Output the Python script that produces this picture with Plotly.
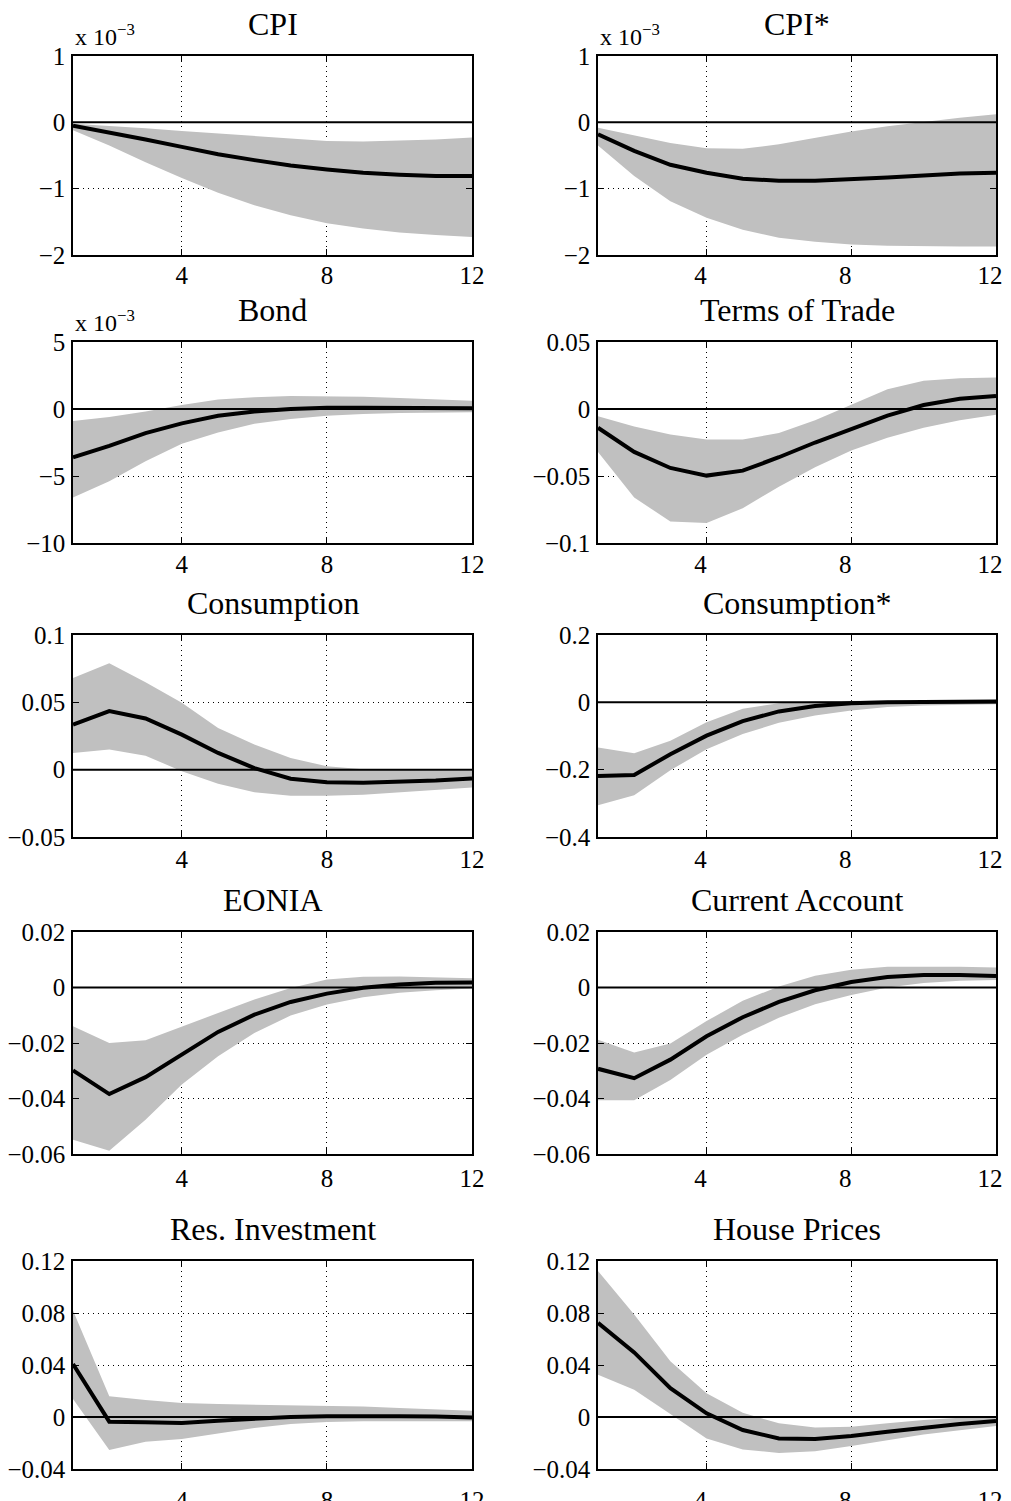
import plotly.graph_objects as go

# ---------------- data ----------------
horizon = [1, 2, 3, 4, 5, 6, 7, 8, 9, 10, 11, 12]

# CPI (units of 1e-3)
cpi_med = [-0.05, -0.15, -0.26, -0.37, -0.48, -0.57, -0.65, -0.71, -0.76, -0.79, -0.81, -0.81]
cpi_hi = [-0.02, -0.05, -0.09, -0.13, -0.17, -0.21, -0.25, -0.28, -0.29, -0.28, -0.26, -0.23]
cpi_lo = [-0.12, -0.35, -0.60, -0.84, -1.06, -1.25, -1.40, -1.52, -1.60, -1.66, -1.70, -1.73]

# CPI* (units of 1e-3)
cpis_med = [-0.18, -0.43, -0.64, -0.76, -0.85, -0.88, -0.88, -0.86, -0.83, -0.80, -0.77, -0.76]
cpis_hi = [-0.08, -0.20, -0.31, -0.39, -0.40, -0.33, -0.23, -0.14, -0.06, 0.01, 0.07, 0.12]
cpis_lo = [-0.35, -0.81, -1.19, -1.44, -1.62, -1.74, -1.80, -1.84, -1.86, -1.87, -1.87, -1.87]

# Bond (units of 1e-3)
bond_med = [-3.6, -2.75, -1.8, -1.07, -0.5, -0.18, 0.0, 0.1, 0.1, 0.1, 0.1, 0.05]
bond_hi = [-0.9, -0.6, -0.18, 0.3, 0.7, 0.87, 0.97, 0.97, 0.92, 0.82, 0.72, 0.62]
bond_lo = [-6.6, -5.4, -3.9, -2.6, -1.75, -1.1, -0.75, -0.5, -0.37, -0.3, -0.27, -0.25]

# Terms of Trade
tot_med = [-0.014, -0.032, -0.044, -0.0497, -0.046, -0.036, -0.025, -0.015, -0.005, 0.003, 0.0076, 0.0098]
tot_hi = [-0.0055, -0.013, -0.019, -0.0227, -0.0227, -0.018, -0.0084, 0.0032, 0.0147, 0.021, 0.023, 0.0236]
tot_lo = [-0.032, -0.066, -0.084, -0.085, -0.074, -0.058, -0.0435, -0.031, -0.0214, -0.014, -0.0084, -0.0042]

# Consumption
cons_med = [0.0335, 0.0435, 0.038, 0.026, 0.0124, 0.0012, -0.0067, -0.0094, -0.0097, -0.009, -0.008, -0.0065]
cons_hi = [0.068, 0.079, 0.065, 0.0497, 0.031, 0.0186, 0.0087, 0.0025, 0.0003, 0.0, -0.0005, -0.001]
cons_lo = [0.0124, 0.015, 0.0104, -0.0012, -0.0104, -0.0167, -0.0194, -0.0194, -0.0186, -0.0169, -0.015, -0.0132]

# Consumption*
conss_med = [-0.219, -0.216, -0.154, -0.099, -0.056, -0.027, -0.011, -0.003, 0.0, 0.0005, 0.0015, 0.0025]
conss_hi = [-0.134, -0.151, -0.114, -0.059, -0.019, -0.0025, 0.0035, 0.0055, 0.0055, 0.0055, 0.0055, 0.006]
conss_lo = [-0.306, -0.276, -0.202, -0.139, -0.094, -0.061, -0.039, -0.024, -0.014, -0.0095, -0.0065, -0.0055]

# EONIA
eon_med = [-0.0299, -0.0384, -0.0323, -0.0242, -0.016, -0.0098, -0.0052, -0.0022, -0.0001, 0.0011, 0.0017, 0.0018]
eon_hi = [-0.014, -0.020, -0.019, -0.0142, -0.0092, -0.0043, -0.0002, 0.0029, 0.0039, 0.004, 0.0037, 0.0033]
eon_lo = [-0.0549, -0.0588, -0.0477, -0.035, -0.0248, -0.0164, -0.0101, -0.0061, -0.0035, -0.0019, -0.001, -0.0004]

# Current Account
ca_med = [-0.0293, -0.0327, -0.026, -0.0176, -0.0107, -0.0052, -0.001, 0.002, 0.0038, 0.0045, 0.0045, 0.0041]
ca_hi = [-0.0188, -0.0234, -0.0202, -0.0121, -0.0048, 0.0004, 0.0042, 0.0064, 0.0075, 0.0076, 0.0075, 0.0072]
ca_lo = [-0.0406, -0.0406, -0.0333, -0.0242, -0.017, -0.0109, -0.006, -0.0027, 0.0, 0.0016, 0.0024, 0.0027]

# Res. Investment
ri_med = [0.0408, -0.0036, -0.0041, -0.0046, -0.0028, -0.0013, 0.0, 0.0005, 0.0008, 0.0005, 0.0003, -0.0003]
ri_hi = [0.0819, 0.0159, 0.0131, 0.0108, 0.010, 0.0095, 0.0092, 0.0087, 0.008, 0.0069, 0.0059, 0.0049]
ri_lo = [0.0139, -0.0254, -0.019, -0.017, -0.0126, -0.0085, -0.0054, -0.0039, -0.0033, -0.0033, -0.0033, -0.0033]

# House Prices
hp_med = [0.0724, 0.0497, 0.0222, 0.0028, -0.010, -0.0165, -0.017, -0.0147, -0.0113, -0.008, -0.0054, -0.0031]
hp_hi = [0.1123, 0.0788, 0.0428, 0.0183, 0.0033, -0.0049, -0.008, -0.0075, -0.0049, -0.0023, -0.0005, 0.0003]
hp_lo = [0.0325, 0.0209, 0.0023, -0.0165, -0.025, -0.0276, -0.0263, -0.0224, -0.0178, -0.0134, -0.010, -0.007]

titles = ["CPI", "CPI*", "Bond", "Terms of Trade", "Consumption",
          "Consumption*", "EONIA", "Current Account", "Res. Investment", "House Prices"]

x_tickvals = [4, 8, 12]
x_ticktext = ["4", "8", "12"]

yt_cpi = [-2, -1, 0, 1]
yt_cpi_txt = ["\u22122", "\u22121", "0", "1"]
yt_bond = [-10, -5, 0, 5]
yt_bond_txt = ["\u221210", "\u22125", "0", "5"]
yt_tot = [-0.1, -0.05, 0, 0.05]
yt_tot_txt = ["\u22120.1", "\u22120.05", "0", "0.05"]
yt_cons = [-0.05, 0, 0.05, 0.1]
yt_cons_txt = ["\u22120.05", "0", "0.05", "0.1"]
yt_conss = [-0.4, -0.2, 0, 0.2]
yt_conss_txt = ["\u22120.4", "\u22120.2", "0", "0.2"]
yt_rate = [-0.06, -0.04, -0.02, 0, 0.02]
yt_rate_txt = ["\u22120.06", "\u22120.04", "\u22120.02", "0", "0.02"]
yt_hous = [-0.04, 0, 0.04, 0.08, 0.12]
yt_hous_txt = ["\u22120.04", "0", "0.04", "0.08", "0.12"]

panels = [
    (cpi_med, cpi_lo, cpi_hi, yt_cpi, yt_cpi_txt, True),
    (cpis_med, cpis_lo, cpis_hi, yt_cpi, yt_cpi_txt, True),
    (bond_med, bond_lo, bond_hi, yt_bond, yt_bond_txt, True),
    (tot_med, tot_lo, tot_hi, yt_tot, yt_tot_txt, False),
    (cons_med, cons_lo, cons_hi, yt_cons, yt_cons_txt, False),
    (conss_med, conss_lo, conss_hi, yt_conss, yt_conss_txt, False),
    (eon_med, eon_lo, eon_hi, yt_rate, yt_rate_txt, False),
    (ca_med, ca_lo, ca_hi, yt_rate, yt_rate_txt, False),
    (ri_med, ri_lo, ri_hi, yt_hous, yt_hous_txt, False),
    (hp_med, hp_lo, hp_hi, yt_hous, yt_hous_txt, False),
]

# ---------------- layout geometry (page pixels) ----------------
PAGE_OFF = 8  # default body margin of the html page shifts the figure
W, H = 1011 - PAGE_OFF, 1501 - PAGE_OFF
col_px = [(73, 472), (598, 996)]
row_px = [(56, 255), (342, 543), (635, 837), (932, 1154), (1261, 1469)]
row_xlabel_standoff = [-3, -2, -1, 1, 8]
col_xlabel_shift = [0, -6]

FONT = "Liberation Serif, Times New Roman, serif"

fig = go.Figure()
annotations = []
layout_axes = {}

for i, (med, lo, hi, ytv, ytt, sci) in enumerate(panels):
    r, c = divmod(i, 2)
    n = i + 1
    xa = "x" if n == 1 else f"x{n}"
    ya = "y" if n == 1 else f"y{n}"
    # band
    fig.add_trace(go.Scatter(
        x=horizon + horizon[::-1], y=hi + lo[::-1],
        fill="toself", fillcolor="#c0c0c0", line=dict(width=0),
        mode="lines", hoverinfo="skip", xaxis=xa, yaxis=ya))
    # zero line
    fig.add_trace(go.Scatter(
        x=[horizon[0], horizon[-1]], y=[0, 0], mode="lines",
        line=dict(color="black", width=2), xaxis=xa, yaxis=ya))
    # median
    fig.add_trace(go.Scatter(
        x=horizon, y=med, mode="lines",
        line=dict(color="black", width=4), xaxis=xa, yaxis=ya))

    x0, x1 = (v - PAGE_OFF for v in col_px[c])
    y0, y1 = (v - PAGE_OFF for v in row_px[r])
    xdom = [x0 / W, x1 / W]
    ydom = [1 - y1 / H, 1 - y0 / H]
    common = dict(
        showline=True, linecolor="black", linewidth=1.5, mirror="ticks",
        ticks="inside", ticklen=6, tickcolor="black", tickwidth=1,
        showgrid=True, gridcolor="black", gridwidth=1, griddash="1px,4px",
        zeroline=False, automargin=False,
        tickfont=dict(family=FONT, size=25, color="black"),
    )
    layout_axes["xaxis" if n == 1 else f"xaxis{n}"] = dict(
        domain=xdom, range=[horizon[0], horizon[-1]], tickvals=x_tickvals,
        ticktext=x_ticktext, anchor=ya, ticklabelstandoff=row_xlabel_standoff[r],
        ticklabelshift=col_xlabel_shift[c], **common)
    layout_axes["yaxis" if n == 1 else f"yaxis{n}"] = dict(
        domain=ydom, range=[ytv[0], ytv[-1]], tickvals=ytv, ticktext=ytt,
        anchor=xa, ticklabelstandoff=1, **common)

    annotations.append(dict(
        text=titles[i], x=(xdom[0] + xdom[1]) / 2, y=ydom[1],
        xref="paper", yref="paper", xanchor="center", yanchor="bottom",
        yshift=12, showarrow=False, font=dict(family=FONT, size=32, color="black")))
    if sci:
        annotations.append(dict(
            text="x 10<sup>\u22123</sup>", x=xdom[0], y=ydom[1],
            xref="paper", yref="paper", xanchor="left", yanchor="bottom",
            yshift=4, showarrow=False, font=dict(family=FONT, size=24, color="black")))

fig.update_layout(
    width=W, height=H, margin=dict(l=0, r=0, t=0, b=0, autoexpand=False),
    paper_bgcolor="white", plot_bgcolor="white", showlegend=False,
    annotations=annotations, **layout_axes)

fig.write_html("out.html")
